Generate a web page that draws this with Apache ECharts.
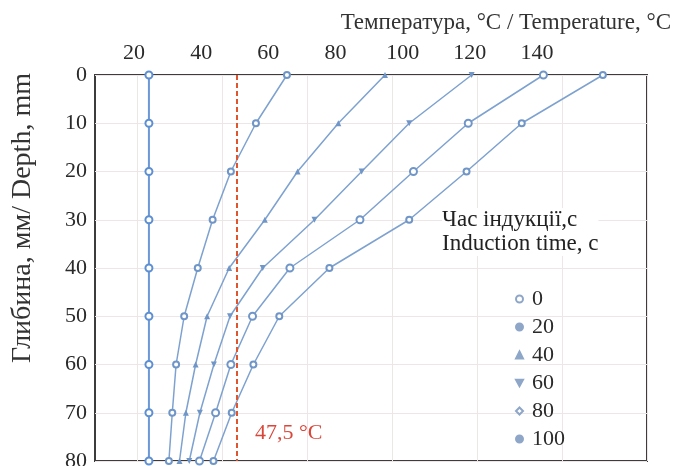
<!DOCTYPE html>
<html>
<head>
<meta charset="utf-8">
<script src="https://cdn.jsdelivr.net/npm/echarts@6/dist/echarts.min.js"></script>
<style>
  html, body { margin: 0; padding: 0; background: #fff; }
  #main { width: 679px; height: 466px; }
</style>
</head>
<body>
<div id="main"></div>
<script>
// depth, mm
var depths = [0, 10, 20, 30, 40, 50, 60, 70, 80];
// temperature, °C, one array per induction time
var t0 = [22.7, 22.7, 22.7, 22.7, 22.7, 22.7, 22.7, 22.7, 22.7];
var t20 = [55.2, 47.9, 42.0, 37.7, 34.2, 31.0, 29.1, 28.2, 27.4];
var t40 = [78.3, 67.3, 57.7, 50.0, 41.6, 36.4, 33.7, 31.4, 29.9];
var t60 = [98.7, 84.0, 72.8, 61.7, 49.5, 41.8, 38.0, 34.7, 32.2];
var t80 = [115.6, 97.9, 85.0, 72.4, 55.9, 47.1, 42.0, 38.4, 34.6];
var t100 = [129.6, 110.5, 97.5, 84.0, 65.2, 53.4, 47.3, 42.2, 37.9];
var seriesNames = ["0", "20", "40", "60", "80", "100"];
var gridTicks = [20, 40, 60, 80, 100, 120, 140];
var xTickLabels = [20, 40, 60, 80, 100, 120, 140];
var limitTemp = 43.4;
var limitText = "47,5 °C";

var chartDom = document.getElementById("main");
var myChart = echarts.init(chartDom);
var font = "Liberation Serif";
var lineColor = "#7ea2d0";
var invTri = "path://M0,0L10,0L5,9Z";

function pairs(arr) {
    var out = [];
    for (var i = 0; i < arr.length; i++) {
        out.push([arr[i], depths[i]]);
    }
    return out;
}

function mkSeries(name, arr, symbol, size, extra) {
    var s = {
        name: name,
        type: "line",
        xAxisIndex: 0,
        yAxisIndex: 0,
        data: pairs(arr),
        symbol: symbol,
        symbolSize: size,
        lineStyle: { color: lineColor, width: 1.5 },
        itemStyle: { color: "#7096c8", borderWidth: 1.2 },
        emphasis: { disabled: true },
        z: 3,
    };
    if (extra) {
        for (var k in extra) s[k] = extra[k];
    }
    return s;
}

var series = [
    mkSeries(seriesNames[0], t0, "emptyCircle", 7, {
        lineStyle: { color: "#6a98d8", width: 2 },
        itemStyle: { color: "#5d8fd2", borderWidth: 1.8 },
        markLine: {
            silent: true,
            symbol: "none",
            label: { show: false },
            lineStyle: { color: "#e0552d", type: [5, 3], width: 2 },
            data: [{ xAxis: limitTemp }],
        },
        markPoint: {
            silent: true,
            symbol: "circle",
            symbolSize: 1,
            itemStyle: { color: "rgba(0,0,0,0)" },
            label: {
                show: true,
                position: "inside",
                formatter: limitText,
                color: "#d9473a",
                fontFamily: font,
                fontSize: 22,
            },
            data: [{ coord: [55.6, 74.3] }],
        },
    }),
    mkSeries(seriesNames[1], t20, "emptyCircle", 6),
    mkSeries(seriesNames[2], t40, "triangle", 6),
    mkSeries(seriesNames[3], t60, invTri, 6),
    mkSeries(seriesNames[4], t80, "emptyCircle", 7),
    mkSeries(seriesNames[5], t100, "emptyCircle", 6),
];

var legendIcons = ["emptyCircle", "circle", "triangle", invTri, "emptyDiamond", "circle"];

var option = {
    animation: false,
    grid: {
        left: 95,
        right: 32,
        top: 75,
        bottom: 5,
        show: true,
        borderColor: "#3c3c3c",
        borderWidth: 2,
        outerBoundsMode: "none",
    },
    title: {
        text: "Температура, °C / Temperature, °C",
        right: 3,
        top: 6,
        textStyle: { fontFamily: font, fontSize: 23, fontWeight: "normal", color: "#333" },
    },
    xAxis: [
        {
            type: "value",
            position: "bottom",
            min: 10,
            max: 140,
            axisLine: { show: false },
            axisTick: { show: false, customValues: gridTicks },
            axisLabel: { show: false },
            splitLine: { show: true, lineStyle: { color: "#ece6e6", width: 1 } },
        },
        {
            type: "value",
            position: "top",
            min: 8.39,
            max: 172.76,
            axisLine: { show: false },
            axisTick: { show: false },
            splitLine: { show: false },
            axisLabel: {
                customValues: xTickLabels,
                margin: 11,
                fontFamily: font,
                fontSize: 22,
                color: "#2a2a2a",
            },
        },
    ],
    yAxis: {
        type: "value",
        inverse: true,
        min: 0,
        max: 80,
        interval: 10,
        name: "Глибина, мм/ Depth, mm",
        nameLocation: "middle",
        nameRotate: 90,
        nameGap: 58,
        nameTextStyle: { fontFamily: font, fontSize: 28, color: "#333", padding: [0, 0, 0, 100] },
        axisLine: { show: false },
        axisTick: { show: false },
        axisLabel: { margin: 8, fontFamily: font, fontSize: 22, color: "#2a2a2a" },
        splitLine: { show: true, lineStyle: { color: "#ece6e6", width: 1 } },
    },
    legend: {
        orient: "vertical",
        left: 510,
        top: 283,
        itemWidth: 7,
        itemHeight: 7,
        itemGap: 6,
        selectedMode: false,
        textStyle: { fontFamily: font, fontSize: 22, color: "#2a2a2a", lineHeight: 22, padding: [0, 0, 0, 4] },
        data: seriesNames.map(function (n, i) {
            return {
                name: n,
                icon: legendIcons[i],
                itemStyle: { color: "#8ea7c8", borderColor: "#8ea7c8" },
            };
        }),
    },
    graphic: [
        {
            type: "text",
            left: 442,
            top: 208,
            z: 10,
            style: {
                text: "Час індукції,с\nInduction time, с",
                font: "23px " + font,
                fill: "#222",
                lineHeight: 24,
                backgroundColor: "#fff",
            },
        },
    ],
    series: series,
};

option && myChart.setOption(option);
</script>
</body>
</html>
